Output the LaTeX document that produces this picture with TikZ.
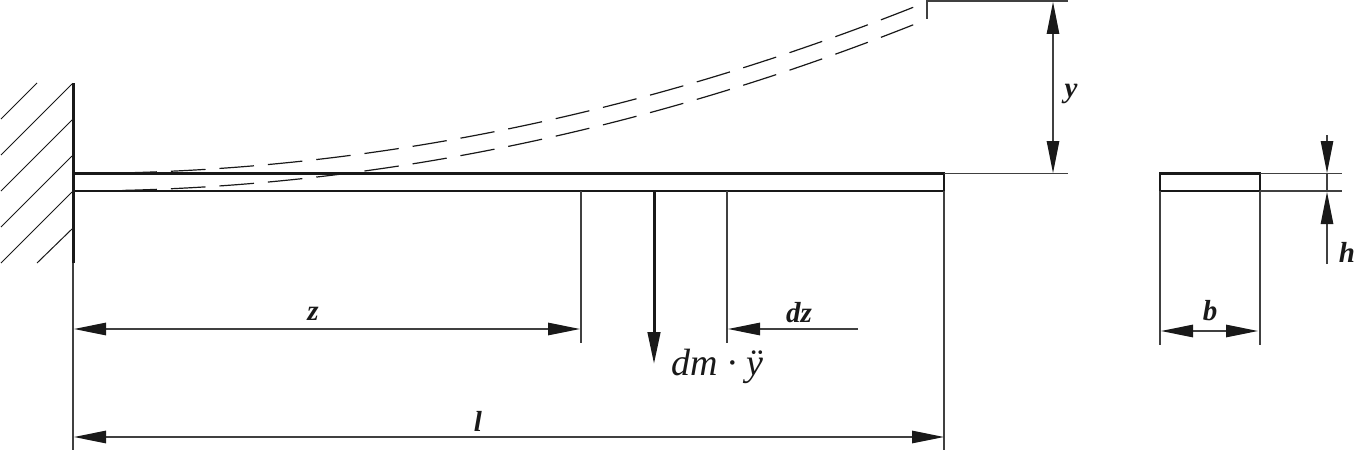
\documentclass[tikz,border=0pt]{standalone}
\usepackage{fontspec}
\setmainfont{Liberation Serif}
\usetikzlibrary{arrows.meta, positioning}

\definecolor{inkdark}{gray}{0.1}
\definecolor{inkdim}{gray}{0.25}

\tikzset{
    bigtip/.tip={Triangle[length=32pt, width=12.5pt, fill=inkdark, color=inkdark]},
    beambox/.style={draw=inkdark, line width=2.8pt, inner sep=0pt, outer sep=0pt},
    wallline/.style={draw=inkdark, line width=3pt},
    hatchline/.style={draw=inkdark, line width=1pt},
    extline/.style={draw=inkdim, line width=1.1pt},
    dimline/.style={draw=inkdim, line width=1.2pt, bigtip-bigtip},
    dimleader/.style={draw=inkdim, line width=1.2pt, -bigtip},
    bentline/.style={draw=inkdark, line width=1.2pt, dash pattern=on 34.6pt off 14pt, dash phase=47.8pt},
    dimlabel/.style={font=\fontsize{29}{29}\selectfont\bfseries\itshape, text=inkdark, inner sep=0pt},
}

\begin{document}
\begin{tikzpicture}[x=1pt, y=-1pt]
        \useasboundingbox (0,0) rectangle (1356,452);

        % wall
        \coordinate (walltop) at (73,83);
        \coordinate (wallend) at (73,263);
        \coordinate (lowl) at (73,450);
        \draw[wallline] (walltop) -- (wallend);
        \draw[hatchline] (1,119) -- (37,83);
        \foreach \yy in {155,191,227,263}
            \draw[hatchline] (1,\yy) -- ++(71,-71);
        \draw[hatchline] (37,263) -- (72,229);

        % bent beam
        \draw[bentline] (73,173.5) .. controls (353.3,173.5) and (633.7,118) .. (914,7);
        \draw[bentline] (73,191) .. controls (353.3,191) and (633.7,135.5) .. (914,24.5);

        % beam
        \node[beambox, minimum width=871pt, minimum height=17.5pt, anchor=north west] (beam) at (73,173.5) {};

        % extension lines
        \coordinate (lowz) at (581,343);
        \coordinate (lowdz) at (727,343);
        \coordinate (lowr) at (944,450);
        \coordinate (topcorner) at (927,1);
        \coordinate (topdrop) at (927,19);
        \coordinate (topend) at (1068,1);
        \coordinate (midend) at (1068,173.5);
        \draw[extline] (wallend) -- (lowl);
        \draw[extline] (beam.south west -| lowz) -- (lowz);
        \draw[extline] (beam.south west -| lowdz) -- (lowdz);
        \draw[extline] (beam.south east) -- (lowr);
        \draw[extline] (topdrop) -- (topcorner) -- (topend);
        \draw[extline] (beam.north east) -- (midend);

        % dimensions
        \coordinate (zleft) at (74,329);
        \coordinate (zright) at (580,329);
        \coordinate (lleft) at (74,437);
        \coordinate (lright) at (944,437);
        \coordinate (dzfree) at (858,329);
        \coordinate (dztip) at (728,329);
        \coordinate (ytop) at (1053,2);
        \coordinate (ybot) at (1053,173);
        \draw[dimline] (zleft) -- (zright);
        \draw[dimline] (lleft) -- (lright);
        \draw[dimleader] (dzfree) -- (dztip);
        \draw[dimline] (ytop) -- (ybot);
        \node[dimlabel] (zlabel) at (313,314) {z};
        \node[dimlabel] (llabel) at (478,421) {l};
        \node[dimlabel] (dzlabel) at (799,313) {dz};
        \node[dimlabel] (ylabel) at (1071,94) {y};

        % inertia force
        \coordinate (forcetip) at (654,364);
        \draw[draw=inkdark, line width=3pt, -bigtip] (beam.south west -| forcetip) -- (forcetip);
        \node[font=\fontsize{38}{38}\selectfont\itshape, text=inkdark, inner sep=0pt, anchor=base west] (forcelabel) at (671,375) {dm · ÿ};

        % cross section
        \node[beambox, minimum width=100pt, minimum height=17.5pt, anchor=north west] (section) at (1160,173.5) {};
        \coordinate (lowbl) at (1160,345);
        \coordinate (lowbr) at (1260,345);
        \coordinate (sectop) at (1342,173.5);
        \coordinate (secbot) at (1342,191);
        \draw[extline] (section.south west) -- (lowbl);
        \draw[extline] (section.south east) -- (lowbr);
        \draw[extline] (section.north east) -- (sectop);
        \draw[extline] (section.south east) -- (secbot);
        \coordinate (bleft) at (1161,331);
        \coordinate (bright) at (1258,331);
        \coordinate (hfreetop) at (1327,135);
        \coordinate (htiptop) at (1327,173);
        \coordinate (hfreebot) at (1327,264);
        \coordinate (htipbot) at (1327,192);
        \draw[dimline] (bleft) -- (bright);
        \draw[dimleader] (hfreetop) -- (htiptop);
        \draw[dimleader] (hfreebot) -- (htipbot);
        \draw[extline] (htiptop) -- (htipbot);
        \node[dimlabel] (blabel) at (1210,311) {b};
        \node[dimlabel] (hlabel) at (1347,252) {h};
\end{tikzpicture}
\end{document}
